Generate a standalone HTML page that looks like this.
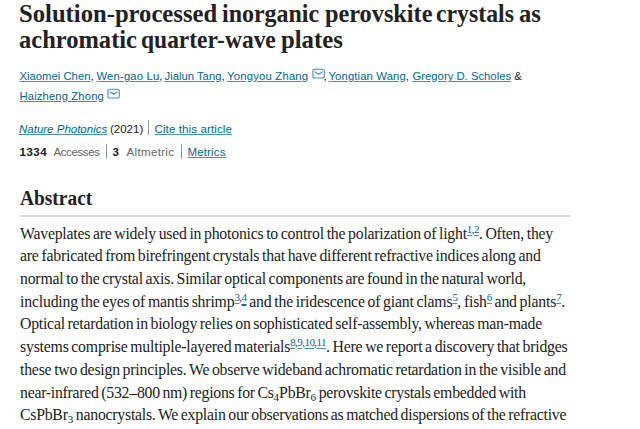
<!DOCTYPE html>
<html><head><meta charset="utf-8">
<style>
*{margin:0;padding:0;box-sizing:border-box}
html,body{width:640px;height:429px;overflow:hidden;background:#fff}
body{position:relative;color:#222;font-family:"Liberation Sans",sans-serif}
.t{position:absolute;white-space:nowrap}
h1{position:absolute;left:19px;font-family:"Liberation Serif",serif;font-weight:bold;font-size:26px;color:#222;white-space:nowrap;line-height:26px}
.au{font-size:11.3px;color:#222;line-height:14px}
a{color:#069;text-decoration:underline;text-decoration-color:#4a8fba}
.sep{position:absolute;width:1px;background:#999}
.meta{font-size:11.5px;line-height:14px}
.gray{color:#666}
.b{font-weight:bold;color:#222}
h2{position:absolute;left:20px;font-family:"Liberation Serif",serif;font-weight:bold;font-size:20px;color:#222;white-space:nowrap}
.rule{position:absolute;left:20px;top:215px;width:550px;height:2px;background:#dadada}
.p{position:absolute;left:20px;font-family:"Liberation Serif",serif;font-size:15.8px;color:#222;white-space:nowrap;line-height:19px;word-spacing:-1px}
sup{font-size:11px;vertical-align:top;position:relative;top:-4px;letter-spacing:-0.55px;word-spacing:0}
sup a{text-underline-offset:2px}
sup a{color:#069}
sub{font-size:11px;vertical-align:baseline;position:relative;top:3px;letter-spacing:0}
.env{position:absolute}
.tw{transform-origin:0 0}
</style></head><body>
<h1 class="t tw" style="left:18.85px;top:1px;transform:scaleX(0.9481)">Solution-processed</h1>
<h1 class="t tw" style="left:221.88px;top:1px;transform:scaleX(0.9212)">inorganic</h1>
<h1 class="t tw" style="left:324.60px;top:1px;transform:scaleX(0.9339)">perovskite</h1>
<h1 class="t tw" style="left:436.09px;top:1px;transform:scaleX(0.9143)">crystals</h1>
<h1 class="t tw" style="left:518.55px;top:1px;transform:scaleX(0.9455)">as</h1>
<h1 class="t tw" style="left:19.26px;top:27px;transform:scaleX(0.9427)">achromatic</h1>
<h1 class="t tw" style="left:141.40px;top:27px;transform:scaleX(0.9034)">quarter-wave</h1>
<h1 class="t tw" style="left:280.50px;top:27px;transform:scaleX(0.9508)">plates</h1>

<div class="t au" style="left:19.5px;top:69px"><a>Xiaomei Chen</a>,</div>
<div class="t au" style="left:96.5px;top:69px;letter-spacing:0.15px"><a>Wen-gao Lu</a>,</div>
<div class="t au" style="left:164.5px;top:69px"><a>Jialun Tang</a>,</div>
<div class="t au" style="left:227px;top:69px;letter-spacing:0.2px"><a>Yongyou Zhang</a></div>
<svg class="env" style="left:311.5px;top:67.5px" width="14" height="12" viewBox="0 0 14 12"><rect x="0.9" y="1.2" width="11.4" height="8.8" rx="1.6" fill="none" stroke="#4d8bbb" stroke-width="1.1"/><path d="M2.5 3.6 L6.6 6.3 L10.7 3.6" fill="none" stroke="#4d8bbb" stroke-width="1.1"/></svg>
<div class="t au" style="left:323.5px;top:69px">,</div>
<div class="t au" style="left:328.5px;top:69px;letter-spacing:0.12px"><a>Yongtian Wang</a>,</div>
<div class="t au" style="left:412.5px;top:69px"><a>Gregory D. Scholes</a> &amp;</div>
<div class="t au" id="au2" style="left:19.5px;top:89px;letter-spacing:0.11px"><a>Haizheng Zhong</a></div>
<svg class="env" style="left:106.7px;top:88px" width="14" height="12" viewBox="0 0 14 12"><rect x="0.9" y="1.2" width="11.4" height="8.8" rx="1.6" fill="none" stroke="#4d8bbb" stroke-width="1.1"/><path d="M2.5 3.6 L6.6 6.3 L10.7 3.6" fill="none" stroke="#4d8bbb" stroke-width="1.1"/></svg>

<div class="t meta" style="left:19px;top:122px"><a><i>Nature Photonics</i></a></div>
<div class="t meta" id="y2021" style="left:110px;top:122px">(2021)</div>
<div class="sep" style="left:148px;top:120px;height:15px"></div>
<div class="t meta" id="cite" style="left:154.5px;top:122px;letter-spacing:0.12px"><a>Cite this article</a></div>

<div class="t meta" style="left:19.5px;top:145px;letter-spacing:0.5px"><span class="b">1334</span></div>
<div class="t meta" id="acc" style="left:53.5px;top:145px;letter-spacing:-0.4px"><span class="gray">Accesses</span></div>
<div class="sep" style="left:106px;top:144px;height:15px"></div>
<div class="t meta" style="left:112.5px;top:145px"><span class="b">3</span></div>
<div class="t meta" id="alt" style="left:126.5px;top:145px;letter-spacing:0.35px"><span class="gray">Altmetric</span></div>
<div class="sep" style="left:181px;top:144px;height:15px"></div>
<div class="t meta" id="met" style="left:187.5px;top:145px;letter-spacing:0.15px"><a>Metrics</a></div>

<h2 class="t" style="top:187px;left:20.2px;transform:scaleX(0.9703);transform-origin:0 0">Abstract</h2>
<div class="rule"></div>

<div class="p" id="l1" style="top:224px;letter-spacing:-0.222px">Waveplates are widely used in photonics to control the polarization of light<sup><a>1</a>,<a>2</a></sup>. Often, they</div>
<div class="p" id="l2" style="top:246px;letter-spacing:-0.206px">are fabricated from birefringent crystals that have different refractive indices along and</div>
<div class="p" id="l3" style="top:269px;letter-spacing:-0.213px">normal to the crystal axis. Similar optical components are found in the natural world,</div>
<div class="p" id="l4" style="top:292px;letter-spacing:-0.187px">including the eyes of mantis shrimp<sup><a>3</a>,<a style="text-decoration-color:#1d6a9a;text-decoration-thickness:2px;text-underline-offset:2.5px">4</a></sup> and the iridescence of giant clams<sup><a>5</a></sup>, fish<sup><a>6</a></sup> and plants<sup><a>7</a></sup>.</div>
<div class="p" id="l5" style="top:314px;letter-spacing:-0.241px">Optical retardation in biology relies on sophisticated self-assembly, whereas man-made</div>
<div class="p" id="l6" style="top:337px;letter-spacing:-0.208px">systems comprise multiple-layered materials<sup><a>8</a>,<a>9</a>,<a>10</a>,<a>11</a></sup>. Here we report a discovery that bridges</div>
<div class="p" id="l7" style="top:360px;letter-spacing:-0.213px">these two design principles. We observe wideband achromatic retardation in the visible and</div>
<div class="p" id="l8" style="top:383px;letter-spacing:-0.265px">near-infrared (532–800 nm) regions for Cs<sub>4</sub>PbBr<sub>6</sub> perovskite crystals embedded with</div>
<div class="p" id="l9" style="top:405px;letter-spacing:-0.25px">CsPbBr<sub>3</sub> nanocrystals. We explain our observations as matched dispersions of the refractive</div>
</body></html>
